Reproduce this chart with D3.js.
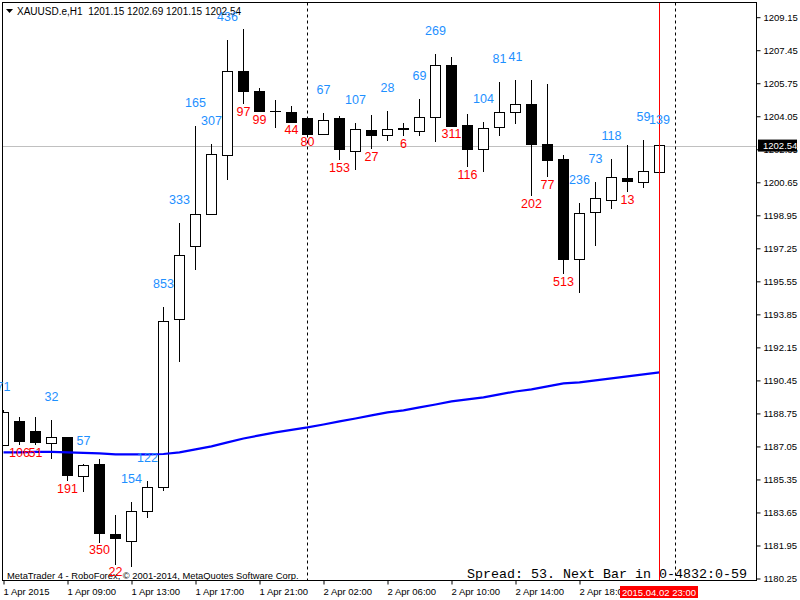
<!DOCTYPE html>
<html>
<head>
<meta charset="utf-8">
<script src="https://cdn.jsdelivr.net/npm/d3@7"></script>
<style>
  body { margin: 0; background: #fff; }
  svg { display: block; font-family: "Liberation Sans", Arial, sans-serif; }
</style>
</head>
<body>
<svg id="chart" width="800" height="600"></svg>
<script>
// XAUUSD.e H1 bars, 1 Apr 2015 .. 2 Apr 2015 23:00
const opens = [1187.10, 1188.34, 1187.82, 1187.20, 1187.51, 1185.50, 1186.12, 1182.52, 1182.16, 1183.70,
  1184.94, 1193.59, 1197.35, 1199.00, 1202.04, 1206.37, 1205.34, 1204.27, 1204.26, 1203.95,
  1203.12, 1203.95, 1202.25, 1203.33, 1203.07, 1203.43, 1203.28, 1204.00, 1206.68, 1203.59,
  1202.35, 1203.48, 1204.26, 1204.67, 1202.61, 1201.83, 1196.68, 1199.10, 1199.72, 1200.86,
  1200.65, 1201.15];
const highs = [1188.90, 1188.54, 1188.54, 1188.39, 1187.55, 1186.17, 1186.38, 1183.50, 1184.17, 1185.25,
  1194.21, 1198.54, 1203.53, 1202.61, 1207.97, 1208.53, 1205.49, 1204.87, 1204.57, 1203.95,
  1204.20, 1204.05, 1203.69, 1204.10, 1204.31, 1203.69, 1204.93, 1207.24, 1207.09, 1204.15,
  1203.74, 1205.80, 1205.90, 1205.90, 1205.70, 1202.04, 1199.57, 1200.65, 1201.83, 1202.56,
  1202.81, 1202.69];
const lows = [1187.05, 1187.10, 1187.10, 1186.38, 1185.25, 1184.68, 1182.10, 1180.95, 1180.82, 1183.39,
  1184.73, 1191.38, 1196.12, 1198.97, 1200.75, 1204.67, 1204.25, 1203.43, 1203.72, 1203.12,
  1203.10, 1201.78, 1201.27, 1202.35, 1202.76, 1203.02, 1203.02, 1202.71, 1203.50, 1201.42,
  1201.17, 1203.02, 1203.64, 1199.93, 1200.91, 1195.91, 1194.93, 1197.35, 1199.26, 1200.13,
  1200.34, 1201.15];
const closes = [1188.80, 1187.31, 1187.26, 1187.51, 1185.56, 1186.07, 1182.57, 1182.31, 1183.70, 1184.94,
  1193.49, 1196.89, 1199.00, 1202.09, 1206.37, 1205.34, 1204.31, 1204.27, 1203.74, 1203.12,
  1203.84, 1202.35, 1203.38, 1203.07, 1203.38, 1203.38, 1204.00, 1206.68, 1203.53, 1202.35,
  1203.43, 1204.26, 1204.67, 1202.61, 1201.78, 1196.68, 1199.05, 1199.83, 1200.91, 1200.70,
  1201.22, 1202.54];
// moving average (blue line)
const maValues = [1186.74, 1186.74, 1186.77, 1186.77, 1186.74, 1186.72, 1186.69, 1186.64, 1186.64, 1186.64,
  1186.66, 1186.74, 1186.90, 1187.05, 1187.26, 1187.46, 1187.62, 1187.77, 1187.90, 1188.03,
  1188.18, 1188.34, 1188.49, 1188.65, 1188.80, 1188.91, 1189.06, 1189.21, 1189.37, 1189.47,
  1189.58, 1189.73, 1189.88, 1189.99, 1190.14, 1190.30, 1190.35, 1190.45, 1190.55, 1190.66,
  1190.76, 1190.86];
// number printed over/under each bar
const barLabels = [71, 106, 51, 32, 191, 57, 350, 22, 154, 122,
  853, 333, 165, 307, 436, 97, 99, null, 44, 80,
  67, 153, 107, 27, 28, 6, 69, 269, 311, 116,
  104, 81, 41, 202, 77, 513, 236, 73, 118, 13,
  59, 139];

const timeTickBars = [0, 4, 8, 12, 16, 20, 24, 28, 32, 36];
const timeTickLabels = ["1 Apr 2015", "1 Apr 09:00", "1 Apr 13:00", "1 Apr 17:00", "1 Apr 21:00",
  "2 Apr 02:00", "2 Apr 06:00", "2 Apr 10:00", "2 Apr 14:00", "2 Apr 18:00"];
const priceTicks = [1209.15, 1207.45, 1205.75, 1204.05, 1202.35, 1200.65, 1198.95, 1197.25, 1195.55,
  1193.85, 1192.15, 1190.45, 1188.75, 1187.05, 1185.35, 1183.65, 1181.95, 1180.25];
const daySeparatorBars = [19, 42];
const currentBar = 41;
const currentTime = "2015.04.02 23:00";
const symbolName = "XAUUSD.e,H1";
const spreadText = "Spread: 53. Next Bar in 0-4832:0-59";
const copyright = "MetaTrader 4 - RoboForex, \u00a9 2001-2014, MetaQuotes Software Corp.";

const svg = d3.select("#chart");
const plotLeft = 2.5, plotTop = 2.5, plotRight = 756.5, plotBottom = 580.5;

const x = d3.scaleLinear().domain([0, 41]).range([3.5, 659.5]);
const y = d3.scaleLinear().domain([1180.25, 1209.15]).range([578.5, 17.2]);

const up = "#1e90ff", down = "#ff0000";

svg.append("defs").append("clipPath").attr("id", "plot")
  .append("rect").attr("x", plotLeft).attr("y", plotTop)
  .attr("width", plotRight - plotLeft).attr("height", plotBottom - plotTop);

const plot = svg.append("g").attr("clip-path", "url(#plot)");

// current price line
const lastClose = closes[currentBar];
plot.append("line")
  .attr("x1", plotLeft).attr("x2", plotRight)
  .attr("y1", Math.round(y(lastClose)) + 0.5).attr("y2", Math.round(y(lastClose)) + 0.5)
  .style("stroke", "#c0c0c0");

// day separators
plot.selectAll("line.sep")
  .data(daySeparatorBars)
  .join("line")
  .attr("class", "sep")
  .attr("x1", d => x(d)).attr("x2", d => x(d))
  .attr("y1", plotTop).attr("y2", plotBottom)
  .style("stroke", "#000")
  .style("stroke-dasharray", "3,3");

const bars = d3.range(opens.length);

// candles
const candles = plot.append("g").style("shape-rendering", "crispEdges");
candles.selectAll("line")
  .data(bars)
  .join("line")
  .attr("x1", i => x(i)).attr("x2", i => x(i))
  .attr("y1", i => y(highs[i])).attr("y2", i => y(lows[i]))
  .style("stroke", "#000");

candles.selectAll("rect")
  .data(bars)
  .join("rect")
  .attr("x", i => x(i) - 5)
  .attr("width", 10)
  .attr("y", i => y(Math.max(opens[i], closes[i])))
  .attr("height", i => Math.max(0.01, Math.abs(y(opens[i]) - y(closes[i]))))
  .attr("fill", i => closes[i] >= opens[i] ? "#fff" : "#000")
  .style("stroke", "#000");

// moving average
plot.append("path")
  .datum(maValues)
  .attr("d", d3.line().x((d, i) => x(i)).y(d => y(d)))
  .attr("fill", "none")
  .style("stroke", "#0000ff")
  .style("stroke-width", 2.2);

// current bar marker
plot.append("line")
  .attr("x1", x(currentBar)).attr("x2", x(currentBar))
  .attr("y1", plotTop).attr("y2", plotBottom)
  .style("stroke", "#ff0000");

// frame
svg.append("rect")
  .attr("x", plotLeft).attr("y", plotTop)
  .attr("width", plotRight - plotLeft).attr("height", plotBottom - plotTop)
  .attr("fill", "none")
  .style("stroke", "#000")
  .style("shape-rendering", "crispEdges");

// price axis
const yAxis = svg.append("g")
  .attr("transform", `translate(${plotRight},0)`)
  .call(d3.axisRight(y).tickValues(priceTicks).tickSize(4).tickPadding(3)
    .tickFormat(d => d.toFixed(2)));
yAxis.select(".domain").remove();
yAxis.selectAll("text").style("font-family", "Liberation Sans, Arial, sans-serif")
  .style("font-size", "9.5px").attr("fill", "#000");

// time axis
const xAxis = svg.append("g")
  .attr("transform", `translate(0,${plotBottom})`)
  .call(d3.axisBottom(x).tickValues(timeTickBars).tickSize(4).tickPadding(0)
    .tickFormat((d, i) => timeTickLabels[i]));
xAxis.select(".domain").remove();
xAxis.selectAll("text")
  .attr("text-anchor", "start")
  .attr("x", -0.5)
  .attr("y", 14.5)
  .attr("dy", null)
  .style("font-family", "Liberation Sans, Arial, sans-serif")
  .style("font-size", "9.5px")
  .attr("fill", "#000");

// current price tag
const tagY = y(lastClose);
svg.append("rect")
  .attr("x", 758).attr("y", tagY - 6).attr("width", 39).attr("height", 12)
  .attr("fill", "#000");
svg.append("text")
  .attr("x", 763).attr("y", tagY + 3.5)
  .style("font-size", "9.5px")
  .attr("fill", "#fff")
  .text(lastClose.toFixed(2));

// current time tag
svg.append("rect")
  .attr("x", 620).attr("y", 586).attr("width", 78).attr("height", 12)
  .attr("fill", "#ff0000");
svg.append("text")
  .attr("x", 622).attr("y", 595.5)
  .style("font-size", "9.5px")
  .attr("fill", "#fff")
  .text(currentTime);

// header
svg.append("path")
  .attr("d", "M6,9 L13,9 L9.5,13 Z")
  .attr("fill", "#000");
svg.append("text")
  .attr("x", 17).attr("y", 15)
  .style("font-size", "10px")
  .style("white-space", "pre")
  .attr("fill", "#000")
  .text(`${symbolName}  ${opens[currentBar].toFixed(2)} ${highs[currentBar].toFixed(2)} ${lows[currentBar].toFixed(2)} ${closes[currentBar].toFixed(2)}`);

// footer texts
svg.append("text")
  .attr("x", 7).attr("y", 578.5)
  .style("font-size", "9.4px")
  .attr("fill", "#000")
  .text(copyright);

svg.append("text")
  .attr("x", 467).attr("y", 578)
  .style("font-family", "Liberation Mono, Courier New, monospace")
  .style("font-size", "13.33px")
  .attr("fill", "#000")
  .text(spreadText);

// bar numbers
const labels = svg.append("g")
  .style("font-size", "12.5px")
  .attr("text-anchor", "middle");
labels.selectAll("text")
  .data(bars.filter(i => barLabels[i] !== null))
  .join("text")
  .attr("x", i => x(i))
  .attr("y", i => closes[i] >= opens[i] ? y(highs[i]) - 19 : y(lows[i]) + 11.5)
  .attr("fill", i => closes[i] >= opens[i] ? up : down)
  .text(i => barLabels[i]);
</script>
</body>
</html>
